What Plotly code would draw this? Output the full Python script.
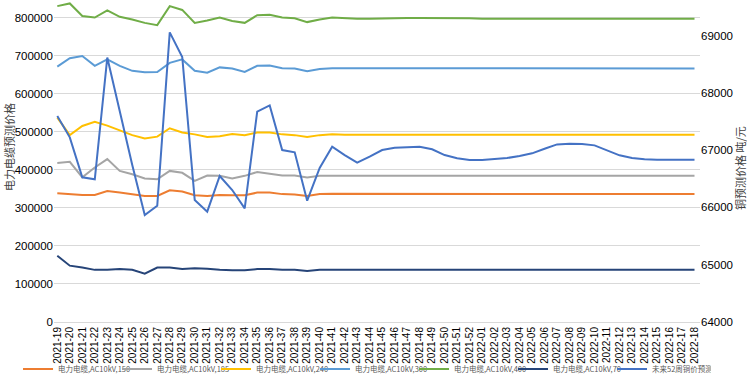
import plotly.graph_objects as go

weeks = [f"2021-{w:02d}" for w in range(19, 53)] + [f"2022-{w:02d}" for w in range(1, 19)]

s150 = [338000, 336000, 334000, 334000, 344000, 340000, 335000, 331000, 331000, 346000,
        343000, 333000, 331000, 334000, 333000, 333000, 340000, 340000, 336000, 335000,
        331000, 336000, 337000, 337000, 337000, 337000, 337000, 337000, 337000, 337000,
        337000, 337000, 337000, 337000, 337000, 337000, 337000, 337000, 337000, 337000,
        337000, 337000, 337000, 337000, 337000, 337000, 336000, 336000, 336000, 336000,
        336000, 336000]
s185 = [418000, 421000, 380000, 406000, 428000, 397000, 388000, 377000, 375000, 397000,
        392000, 371000, 385000, 384000, 377000, 384000, 394000, 390000, 385000, 385000,
        380000, 384000, 384000, 384000, 384000, 384000, 384000, 384000, 384000, 384000,
        384000, 384000, 384000, 384000, 384000, 384000, 384000, 384000, 384000, 384000,
        384000, 384000, 384000, 384000, 384000, 384000, 384000, 384000, 384000, 384000,
        384000, 384000]
s240 = [537000, 491000, 515000, 526000, 516000, 504000, 491000, 482000, 487000, 509000,
        498000, 493000, 486000, 488000, 494000, 491000, 498000, 498000, 493000, 491000,
        486000, 491000, 493000, 492000, 492000, 492000, 492000, 492000, 492000, 492000,
        492000, 492000, 492000, 492000, 492000, 492000, 492000, 492000, 492000, 492000,
        492000, 492000, 492000, 492000, 492000, 492000, 492000, 492000, 492000, 492000,
        492000, 492000]
s300 = [671000, 693000, 699000, 673000, 690000, 673000, 660000, 656000, 657000, 681000,
        690000, 660000, 655000, 669000, 666000, 657000, 673000, 674000, 667000, 666000,
        659000, 665000, 667000, 667000, 666000, 666000, 667000, 667000, 667000, 667000,
        667000, 667000, 667000, 667000, 667000, 667000, 667000, 667000, 667000, 667000,
        667000, 667000, 667000, 666000, 666000, 666000, 666000, 666000, 666000, 666000,
        666000, 666000]
s400 = [830000, 837000, 804000, 800000, 819000, 802000, 795000, 786000, 780000, 830000,
        820000, 786000, 792000, 800000, 791000, 786000, 806000, 807000, 800000, 798000,
        788000, 795000, 800000, 798000, 797000, 797000, 798000, 799000, 799000, 799000,
        799000, 799000, 799000, 798000, 797000, 797000, 798000, 798000, 798000, 798000,
        798000, 798000, 798000, 797000, 797000, 797000, 797000, 797000, 797000, 797000,
        797000, 797000]
s70 = [174000, 148000, 143000, 137000, 137000, 139000, 137000, 127000, 143000, 143000,
       139000, 141000, 140000, 137000, 136000, 136000, 139000, 139000, 137000, 137000,
       134000, 137000, 137000, 137000, 137000, 137000, 137000, 137000, 137000, 137000,
       137000, 137000, 137000, 137000, 137000, 137000, 137000, 137000, 137000, 137000,
       137000, 137000, 137000, 137000, 137000, 137000, 137000, 137000, 137000, 137000,
       137000, 137000]
copper = [67595, 67223, 66525, 66490, 68615, 67665, 66740, 65867, 66030, 69055,
          68625, 66129, 65925, 66548, 66303, 65984, 67670, 67781, 67001, 66961,
          66117, 66690, 67059, 66914, 66780, 66885, 67001, 67041, 67048, 67059,
          67014, 66914, 66857, 66827, 66827, 66839, 66862, 66897, 66944, 67024,
          67100, 67111, 67106, 67083, 66989, 66909, 66862, 66839, 66833, 66833,
          66833, 66833]

names = ["电力电缆,AC10kV,150", "电力电缆,AC10kV,185", "电力电缆,AC10kV,240",
         "电力电缆,AC10kV,300", "电力电缆,AC10kV,400", "电力电缆,AC10kV,70", "未来52周铜价预测"]
colors = ["#ED7D31", "#A5A5A5", "#FFC000", "#5B9BD5", "#70AD47", "#264478", "#4472C4"]

left_title = "电力电缆预测价格"
right_title = "铜预测价格 吨/元"

fig = go.Figure()
for nm, ys, c in zip(names[:6], [s150, s185, s240, s300, s400, s70], colors[:6]):
    fig.add_trace(go.Scatter(x=weeks, y=ys, name=nm, mode="lines",
                             line=dict(color=c, width=2)))
fig.add_trace(go.Scatter(x=weeks, y=copper, name=names[6], mode="lines",
                         line=dict(color=colors[6], width=2), yaxis="y2"))

tickfont = dict(family="Liberation Sans, Arial, sans-serif", size=11.5, color="#000000")
titlefont = dict(family="Noto Sans CJK SC", size=11, color="#404040")
fig.update_layout(
    width=747, height=377,
    margin=dict(l=54, r=47, t=2, b=55, autoexpand=False),
    paper_bgcolor="white", plot_bgcolor="white",
    showlegend=True,
    legend=dict(orientation="h", x=-0.0557, xanchor="left", y=-0.147, yanchor="middle",
                font=dict(family="Liberation Sans Narrow, Noto Sans CJK SC", size=7.5,
                          color="#595959"),
                itemwidth=30, entrywidth=54, entrywidthmode="pixels",
                tracegroupgap=0, bgcolor="rgba(0,0,0,0)"),
    xaxis=dict(type="category", range=[-0.264, 51.44], tickangle=-90, dtick=1, tickmode="linear",
               tickfont=dict(family="Liberation Sans, Arial, sans-serif", size=10, color="#000000"),
               showgrid=False, showline=False, ticks="", automargin=False,
               ticklabelstandoff=2),
    yaxis=dict(range=[0, 840800], dtick=100000, tickformat="d",
               showgrid=True, gridcolor="#D9D9D9", gridwidth=1, zeroline=True,
               zerolinecolor="#D9D9D9", zerolinewidth=1,
               tickfont=tickfont, automargin=False),
    yaxis2=dict(range=[64000, 69585], dtick=1000, tickformat="d", overlaying="y", side="right",
                showgrid=False, zeroline=False, tickfont=tickfont, automargin=False),
    annotations=[
        dict(text=left_title, xref="paper", yref="paper", x=-0.0704, y=0.545,
             xanchor="center", yanchor="middle", textangle=-90, showarrow=False,
             font=titlefont),
        dict(text=right_title, xref="paper", yref="paper", x=1.0619, y=0.481,
             xanchor="center", yanchor="middle", textangle=-90, showarrow=False,
             font=titlefont),
    ],
)

fig.write_html("out.html",
               config={"displayModeBar": False},
               post_script="document.body.style.margin='0px';"
                           "document.documentElement.style.overflow='hidden';")
